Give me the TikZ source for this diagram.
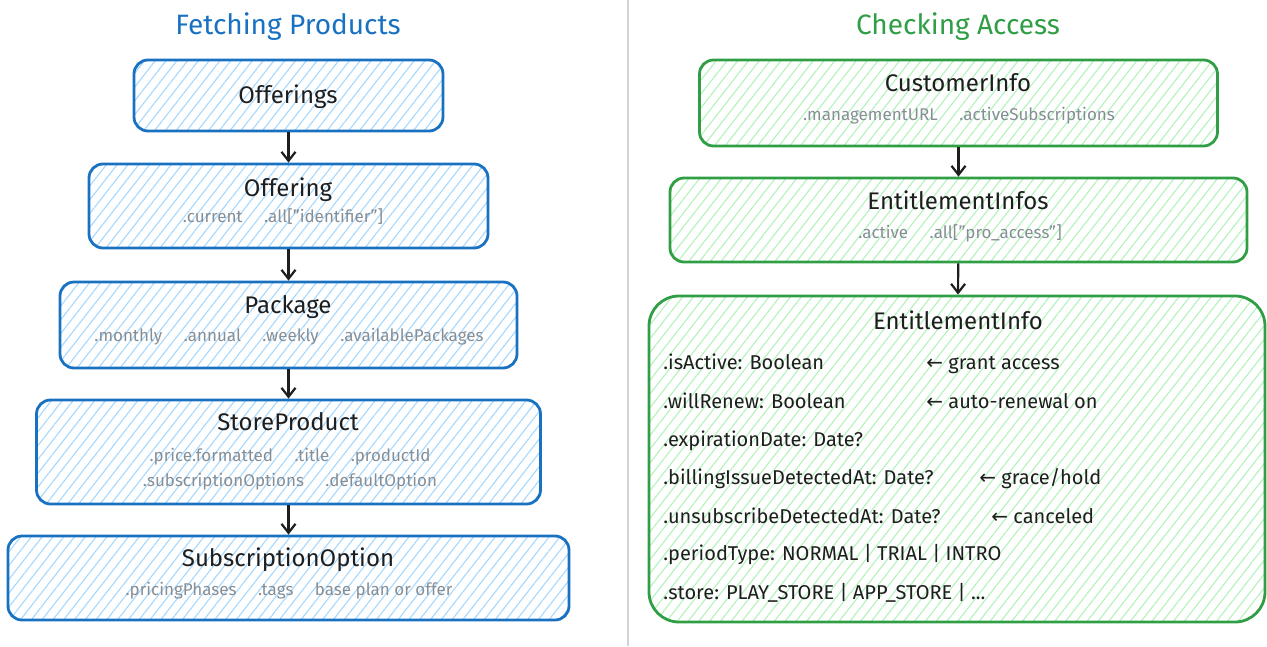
\documentclass[tikz,border=0pt]{standalone}
\usepackage{fontspec}
\setmainfont{Fira Sans}
\newfontfamily\arrowfont{DejaVu Sans}
\usetikzlibrary{arrows.meta,patterns.meta}
\definecolor{fpblue}{HTML}{1971C2}
\definecolor{fphatch}{HTML}{A5D8FF}
\definecolor{cagreen}{HTML}{2F9E44}
\definecolor{cahatch}{HTML}{B2F2BB}
\definecolor{ink}{HTML}{1E1E1E}
\definecolor{faint}{HTML}{868E96}
\definecolor{divider}{HTML}{CED4DA}
\begin{document}
\begin{tikzpicture}[x=1pt,y=-1pt,line width=2.8pt,inner sep=0pt,
    bluebox/.style={draw=fpblue,rounded corners=14pt,
      pattern={Lines[angle=52,distance=8.5pt,line width=1.1pt]},pattern color=fphatch},
    greenbox/.style={draw=cagreen,rounded corners=14pt,
      pattern={Lines[angle=52,distance=8.5pt,line width=1.1pt]},pattern color=cahatch},
    heading/.style={font=\fontsize{28}{32}\selectfont,text height=23pt,text depth=4pt},
    classname/.style={text=ink,font=\fontsize{24}{28}\selectfont,text height=20pt,text depth=3.5pt},
    members/.style={text=faint,font=\fontsize{17}{20}\selectfont,text height=14.5pt,text depth=3pt},
    field/.style={text=ink,anchor=west,font=\fontsize{20}{24}\selectfont,text height=18pt,text depth=4pt},
    flow/.style={draw=ink,line width=2.2pt,-{Straight Barb[length=9pt,width=14pt]}}]
    \path[use as bounding box] (0,0) rectangle (1267,646);
    \draw[divider,line width=1.5pt] (628,0) -- (628,646);
    \node[heading,text=fpblue] (fetching) at (288,25) {Fetching Products};
    \node[heading,text=cagreen] (checking) at (958,25) {Checking Access};
    \node[bluebox,minimum width=309pt,minimum height=71pt] (offerings) at (288.5,95.5) {};
    \node[bluebox,minimum width=399pt,minimum height=84pt] (offering) at (288.5,206) {};
    \node[bluebox,minimum width=457pt,minimum height=86pt] (package) at (288.5,325) {};
    \node[bluebox,minimum width=504pt,minimum height=104pt] (storeproduct) at (288.5,452) {};
    \node[bluebox,minimum width=561pt,minimum height=84pt] (subscriptionoption) at (288.5,578) {};
    \node[greenbox,minimum width=518pt,minimum height=86pt] (customerinfo) at (958.5,103) {};
    \node[greenbox,minimum width=577pt,minimum height=84pt] (entitlementinfos) at (958.5,220) {};
    \node[greenbox,rounded corners=30pt,minimum width=616pt,minimum height=326pt] (entitlementinfo) at (957,459) {};
    \foreach \a/\b in {offerings/offering,offering/package,package/storeproduct,
      storeproduct/subscriptionoption,customerinfo/entitlementinfos,entitlementinfos/entitlementinfo}
      \draw[flow] (\a) -- (\b);
    \node[classname] (offeringsname) at (288,95) {Offerings};
    \node[classname] (offeringname) at (288,188) {Offering};
    \node[members] (offeringmembers) at (283,217) {.current \quad .all["identifier"]};
    \node[classname] (packagename) at (288,305) {Package};
    \node[members] (packagemembers) at (289,336) {.monthly \quad .annual \quad .weekly \quad .availablePackages};
    \node[classname] (storeproductname) at (288,422) {StoreProduct};
    \node[members] (storeproductmembers) at (290,456) {.price.formatted \quad .title \quad .productId};
    \node[members] (storeproductoptions) at (290,481) {.subscriptionOptions \quad .defaultOption};
    \node[classname] (subscriptionoptionname) at (288,558) {SubscriptionOption};
    \node[members] (subscriptionoptionmembers) at (289,590) {.pricingPhases \quad .tags \quad base plan or offer};
    \node[classname] (customerinfoname) at (958,83) {CustomerInfo};
    \node[members] (customerinfomembers) at (959,115) {.managementURL \quad .activeSubscriptions};
    \node[classname] (entitlementinfosname) at (958,201) {EntitlementInfos};
    \node[members] (entitlementinfosmembers) at (960,233) {.active \quad .all["pro\_access"]};
    \node[classname] (entitlementinfoname) at (958,321) {EntitlementInfo};
    \node[field] (isactive) at (662,362) {.isActive: Boolean};
    \node[field] (willrenew) at (662,401) {.willRenew: Boolean};
    \node[field] (expiration) at (662,439) {.expirationDate: Date?};
    \node[field] (billingissue) at (662,477) {.billingIssueDetectedAt: Date?};
    \node[field] (unsubscribe) at (662,516) {.unsubscribeDetectedAt: Date?};
    \node[field] (periodtype) at (662,553) {.periodType: NORMAL | TRIAL | INTRO};
    \node[field] (store) at (662,592) {.store: PLAY\_STORE | APP\_STORE | ...};
    \node[field] (grantnote) at (925,362) {{\arrowfont ←}\ grant access};
    \node[field] (renewalnote) at (925,401) {{\arrowfont ←}\ auto-renewal on};
    \node[field] (gracenote) at (978,477) {{\arrowfont ←}\ grace/hold};
    \node[field] (cancelnote) at (990,516) {{\arrowfont ←}\ canceled};
  \end{tikzpicture}
\end{document}
